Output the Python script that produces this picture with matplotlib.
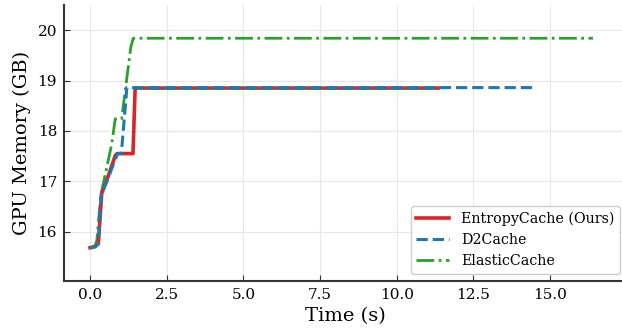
import matplotlib
matplotlib.use("Agg")
import matplotlib.pyplot as plt

# memory traces (time in s, memory in GB)
entropy_t = [0.0, 0.16, 0.27, 0.38, 0.54, 0.82, 0.88, 1.40, 1.47, 11.35]
entropy_m = [15.68, 15.70, 15.76, 16.76, 17.01, 17.51, 17.55, 17.55, 18.85, 18.85]

d2_t = [0.0, 0.16, 0.27, 0.36, 0.55, 0.80, 0.90, 1.02, 1.20, 14.45]
d2_m = [15.68, 15.70, 15.76, 16.74, 17.00, 17.40, 17.55, 17.55, 18.86, 18.86]

elastic_t = [0.0, 0.16, 0.22, 0.35, 0.71, 0.82, 1.03, 1.33, 1.41, 16.40]
elastic_m = [15.68, 15.72, 15.82, 16.72, 17.75, 18.24, 18.24, 19.67, 19.84, 19.84]

plt.rcParams['font.family'] = ['DejaVu Serif']

fig = plt.figure(figsize=(6.22, 3.32), dpi=100)
ax = fig.add_axes([64 / 622, 51 / 332, 563 / 622, 276 / 332])

ax.plot(entropy_t, entropy_m, color='#d62728', lw=2.6, label='EntropyCache (Ours)', zorder=3)
ax.plot(d2_t, d2_m, color='#1f77b4', lw=2.2, ls='--', label='D2Cache', zorder=4)
ax.plot(elastic_t, elastic_m, color='#2ca02c', lw=2.0, ls='-.', label='ElasticCache', zorder=2)

ax.set_xlim(-0.85, 17.51)
ax.set_ylim(15.02, 20.5)
ax.set_yticks([16, 17, 18, 19, 20])
ax.set_xticks([0, 2.5, 5, 7.5, 10, 12.5, 15])
ax.set_xlabel('Time (s)', fontsize=14, labelpad=4)
ax.set_ylabel('GPU Memory (GB)', fontsize=14, labelpad=5)
ax.tick_params(direction='in', labelsize=11, color='#333333', length=4, pad=5)
ax.grid(True, color='#e6e6e6', lw=0.8)
ax.set_axisbelow(True)
for side in ['top', 'right']:
    ax.spines[side].set_visible(False)
for side in ['left', 'bottom']:
    ax.spines[side].set_color('#333333')
    ax.spines[side].set_linewidth(1.5)

ax.legend(loc='lower right', fontsize=10.3, handlelength=2.3, frameon=True,
          edgecolor='#cccccc', framealpha=1.0)

fig.savefig('out.png', dpi=100)
